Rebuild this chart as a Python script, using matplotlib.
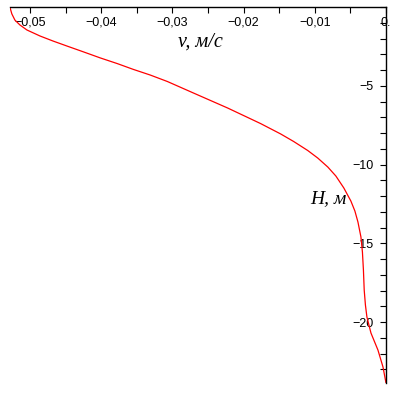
import matplotlib
matplotlib.use("Agg")
import matplotlib.pyplot as plt
from matplotlib.ticker import FixedLocator, MultipleLocator, FuncFormatter

# velocity profile
v = [-0.05282, -0.05254, -0.05211, -0.05141, -0.05042, -0.04859, -0.04676,
     -0.04479, -0.04254, -0.04014, -0.03775, -0.03549, -0.03310, -0.03070,
     -0.02704, -0.02225, -0.01761, -0.01479, -0.01296, -0.01099, -0.00958,
     -0.00817, -0.00704, -0.00592, -0.00493, -0.00437, -0.00394, -0.00352,
     -0.00331, -0.00317, -0.00306, -0.00289, -0.00268, -0.00211, -0.00113,
     -0.00042, 0.0]
H = [0.0, -0.44, -0.83, -1.14, -1.46, -1.84, -2.16,
     -2.48, -2.84, -3.23, -3.59, -3.96, -4.32, -4.73,
     -5.46, -6.41, -7.40, -8.06, -8.54, -9.11, -9.59,
     -10.16, -10.73, -11.49, -12.32, -12.95, -13.65, -14.60,
     -15.56, -16.70, -17.97, -18.92, -19.68, -20.70, -21.78,
     -22.86, -23.87]

xticks = [-0.05, -0.04, -0.03, -0.02, -0.01, 0.0]
yticks = [-5, -10, -15, -20]

fig = plt.figure(figsize=(3.96, 3.93), dpi=100)
ax = fig.add_axes([10 / 396, 1 - 383 / 393, 376 / 396, 376 / 393])

ax.plot(v, H, color="red", lw=0.9)
ax.set_xlim(-0.0528, 0)
ax.set_ylim(-23.87, 0)

for s in ["top", "right"]:
    ax.spines[s].set_visible(False)
ax.spines["left"].set_position(("data", 0))
ax.spines["bottom"].set_position(("data", 0))
for s in ["left", "bottom"]:
    ax.spines[s].set_linewidth(1.0)

ax.xaxis.set_major_locator(FixedLocator(xticks))
ax.xaxis.set_minor_locator(MultipleLocator(0.005))
ax.yaxis.set_major_locator(FixedLocator(yticks))
ax.yaxis.set_minor_locator(MultipleLocator(1))


def fmt_x(x, pos):
    if abs(x) < 1e-9:
        return "0."
    return ("\u2212%.2f" % abs(x)).replace(".", ",")


ax.xaxis.set_major_formatter(FuncFormatter(fmt_x))
ax.yaxis.set_major_formatter(FuncFormatter(lambda y, p: "\u2212%d" % abs(y)))

ax.tick_params(which="both", direction="out", length=4, width=0.8,
               labelsize=9, colors="black")
ax.tick_params(axis="x", pad=3)
ax.tick_params(axis="y", pad=5)
for lbl in ax.get_xticklabels() + ax.get_yticklabels():
    lbl.set_family("Liberation Sans")

ax.text(0.505, 0.894, "v, м/с", transform=ax.transAxes, ha="center",
        va="baseline", fontsize=14.5, style="italic", family="Liberation Serif")
ax.text(0.848, 0.479, "H, м", transform=ax.transAxes, ha="center",
        va="baseline", fontsize=14, style="italic", family="Liberation Serif")

fig.savefig("out.png", dpi=100)
